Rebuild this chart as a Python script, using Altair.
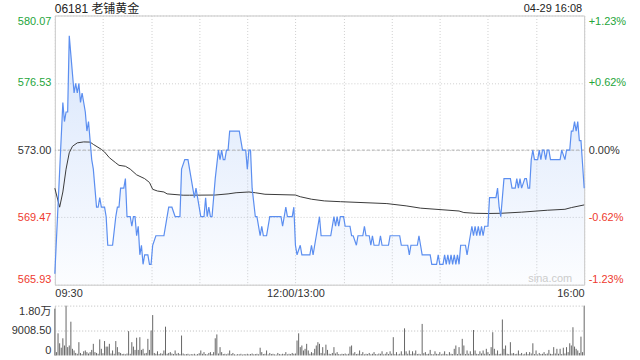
import altair as alt
import pandas as pd

# ---------------- data ----------------
# minutes since 09:30 (12:00 and 13:00 share index 150, 16:00 = 330)
price_min = [0, 5, 6, 7, 8, 9, 10, 12, 13, 14, 15, 16, 17, 18, 19, 20, 21, 22, 23, 24,
             25, 26, 27, 28, 29, 31, 32, 33, 36, 38, 39, 40, 41, 43, 44, 45, 47, 48, 49, 50,
             51, 52, 53, 54, 55, 56, 58, 59, 60, 61, 63, 68, 70, 71, 73, 75, 78, 79, 81, 83,
             84, 85, 87, 88, 89, 90, 91, 93, 94, 95, 96, 97, 98, 99, 100, 102, 103, 104, 105, 106,
             107, 108, 109, 115, 117, 119, 120, 121, 122, 123, 125, 126, 128, 129, 130, 132, 134, 141, 142, 144,
             145, 148, 149, 150, 151, 153, 154, 159, 160, 161, 162, 164, 165, 166, 172, 174, 175, 176, 177, 178,
             180, 181, 184, 185, 186, 188, 189, 192, 193, 194, 196, 197, 198, 199, 202, 203, 204, 208, 209, 215,
             216, 220, 221, 222, 226, 227, 228, 229, 234, 235, 238, 239, 240, 242, 243, 244, 245, 246, 247, 248,
             249, 250, 251, 252, 253, 256, 257, 258, 260, 261, 262, 263, 264, 265, 266, 267, 268, 270, 271, 275,
             276, 277, 278, 279, 280, 284, 285, 287, 288, 289, 290, 291, 293, 294, 295, 296, 297, 298, 299, 301,
             302, 303, 304, 305, 306, 307, 308, 309, 315, 316, 318, 319, 321, 322, 323, 324, 325, 326, 327, 328,
             330]
price_val = [566.5, 575.5, 574.5, 575, 575, 579, 578, 576, 576.5, 576, 576.5, 575.5, 576, 575.5, 575, 574, 574.5, 573.5, 572.5, 572,
             571, 570, 570, 570.5, 570, 570, 569.5, 568, 568, 569.5, 570, 570, 571, 571, 571.5, 569.5, 569.5, 569, 569.5, 569.5,
             568.5, 569, 567.5, 568, 567, 567.5, 567.5, 567, 567, 568, 568.5, 568.5, 569.5, 570, 570, 569.5, 569.5, 572, 572.5, 572.5,
             572, 571.5, 570.5, 571, 570.5, 570, 569.5, 569.5, 570.5, 569.5, 570, 569.5, 569.5, 570.5, 571.5, 573, 572.5, 573, 572.5, 572.5,
             573, 573, 574, 574, 573, 573, 572, 573, 573, 571, 569.5, 569.5, 568.5, 569, 568.5, 568.5, 569.5, 569.5, 569, 570,
             569.5, 569.5, 570, 568, 567.5, 568, 567.5, 567.5, 568, 567.5, 568, 569, 569.5, 568.5, 568.5, 569.5, 569, 569.5, 569, 569.5,
             569.5, 569, 569, 568.5, 568.5, 568, 568.5, 568.5, 569, 568.5, 568.5, 568, 568.5, 568, 568, 568.5, 568, 568, 568.5, 568.5,
             568, 568, 567.5, 568, 568, 568.5, 568, 567.5, 567.5, 567, 567, 567.5, 567, 567, 567.5, 567, 567.5, 567, 567.5, 567,
             567.5, 567, 567.5, 567, 568, 568, 567.5, 568, 569, 568.5, 569, 568.5, 569, 568.5, 569, 568.5, 569, 569, 570.5, 570.5,
             571, 570, 569.5, 570.5, 571.5, 571.5, 571, 571, 571.5, 571, 571.5, 571, 571.5, 571.5, 571, 571, 572.5, 573, 572.5, 572.5,
             573, 572.5, 573, 573, 572.5, 573, 573, 572.5, 572.5, 573, 572.5, 573, 573, 574, 574, 574.5, 574, 574.5, 573.5, 573.5,
             571]

avg_min = [0, 3, 5, 7, 9, 11, 14, 18, 22, 24, 29, 31, 34, 38, 40, 44, 47, 51, 56, 59,
           61, 64, 68, 70, 80, 84, 100, 108, 113, 121, 125, 131, 150, 153, 160, 168, 178, 207, 219, 228,
           252, 255, 262, 270, 278, 291, 307, 318, 322, 330]
avg_val = [571.0, 570.0, 570.8, 572.0, 572.86, 573.2, 573.38, 573.43, 573.42, 573.3, 573.04, 572.9, 572.6, 572.33, 572.2, 572.15, 572.0, 571.7, 571.5, 571.3,
           570.94, 570.85, 570.8, 570.7, 570.63, 570.63, 570.64, 570.7, 570.76, 570.8, 570.76, 570.68, 570.64, 570.55, 570.42, 570.33, 570.29, 570.19, 570.07, 569.95,
           569.8, 569.72, 569.68, 569.67, 569.68, 569.74, 569.84, 569.89, 569.98, 570.12]

# volume per minute, index 0..330
volume = [16900, 1200, 8000, 4400, 2800, 6200, 3600, 18000, 3000, 3600,
          12200, 2400, 1800, 900, 600, 4800, 900, 500, 1500, 1800,
          1200, 700, 1200, 2000, 4200, 1200, 900, 600, 5800, 2400,
          800, 5200, 3200, 3200, 4200, 700, 1800, 600, 5200, 3000,
          1200, 900, 500, 600, 400, 700, 8800, 600, 4800, 3200,
          2000, 6400, 2000, 6600, 2000, 2400, 700, 900, 6000, 2000,
          9000, 14600, 900, 600, 1500, 500, 800, 600, 1800, 10400,
          600, 900, 1200, 700, 500, 1800, 600, 900, 500, 7200,
          700, 400, 500, 600, 300, 500, 400, 600, 300, 500,
          800, 1800, 600, 1200, 500, 400, 900, 1200, 500, 1200,
          6200, 7600, 700, 3000, 1200, 500, 600, 400, 700, 1800,
          500, 900, 400, 300, 500, 400, 600, 300, 500, 400,
          600, 400, 500, 700, 400, 500, 600, 400, 2800, 1200,
          500, 600, 1800, 400, 900, 500, 600, 400, 300, 900,
          500, 400, 600, 500, 1200, 400, 600, 500, 900, 600,
          700, 5400, 8000, 3000, 3600, 1800, 2400, 4200, 1800, 600,
          1200, 800, 2400, 3600, 4800, 4200, 900, 3000, 700, 3900,
          2000, 600, 500, 900, 3000, 700, 1200, 500, 400, 600,
          500, 700, 400, 600, 3200, 3600, 700, 1200, 500, 600,
          1800, 500, 1200, 400, 600, 500, 900, 400, 600, 1200,
          500, 400, 700, 600, 1500, 400, 600, 1200, 500, 1500,
          600, 6600, 500, 1200, 400, 600, 1500, 400, 9800, 1500,
          600, 1800, 500, 1500, 700, 1800, 500, 600, 400, 11400,
          800, 1200, 500, 600, 2000, 500, 400, 1500, 600, 500,
          1200, 400, 600, 1500, 500, 400, 1200, 600, 500, 2400,
          3600, 500, 3000, 600, 6000, 3600, 500, 1800, 600, 1500,
          500, 9200, 1800, 600, 500, 1500, 700, 1800, 600, 2400,
          1200, 500, 3000, 8400, 2400, 600, 1800, 500, 600, 13000,
          2400, 3600, 600, 500, 4800, 700, 900, 500, 600, 1800,
          500, 900, 400, 600, 1200, 500, 1200, 700, 4400, 500,
          1800, 400, 900, 500, 600, 1200, 500, 700, 2000, 600,
          500, 3000, 700, 2400, 600, 2400, 500, 2800, 700, 3000,
          1200, 4400, 3600, 10200, 3200, 2400, 1800, 900, 6800, 1200,
          18017]

prev_close = 573.00
price_ticks = [565.93, 569.47, 573.00, 576.53, 580.07]
pct_labels = ["-1.23%", "-0.62%", "0.00%", "+0.62%", "+1.23%"]
vol_ticks = [0, 9008.5, 18017]
vol_labels = ["0", "9008.50", "1.80万"]
time_ticks = [0, 150, 330]
time_labels = ["09:30", "12:00/13:00", "16:00"]
grid_minutes = list(range(0, 331, 30))
title_text = "06181 老铺黄金"
stamp_text = "04-29 16:08"
mark_text_wm = "sina.com"

# ---------------- chart ----------------
FONT = "Liberation Sans, Arial, Noto Sans CJK SC"
GREEN = "#25a53b"
RED = "#ee3a2e"
DARK = "#333333"

price_df = pd.DataFrame({"m": price_min, "price": price_val})
avg_df = pd.DataFrame({"m": avg_min, "avg": avg_val})
vol_df = pd.DataFrame({"m": list(range(len(volume))), "vol": volume})
one = pd.DataFrame({"k": [0]})

W, H, VH = 531, 270, 50


def map_expr(ticks, labels, default="''"):
    expr = default
    for t, l in zip(ticks, labels):
        expr = f"abs(datum.value - {t}) < 0.001 ? '{l}' : ({expr})"
    return expr


xscale = alt.Scale(domain=[time_ticks[0], time_ticks[-1]], nice=False, zero=False)
yscale = alt.Scale(domain=[price_ticks[0], price_ticks[-1]], nice=False, zero=False)

color_cond = {
    "condition": [
        {"test": f"datum.value > {prev_close + 0.001}", "value": GREEN},
        {"test": f"datum.value < {prev_close - 0.001}", "value": RED},
    ],
    "value": DARK,
}

xaxis = alt.Axis(values=grid_minutes, labelExpr=map_expr(time_ticks, time_labels),
                 grid=True, gridDash=[1, 2], gridColor="#cfcfcf", domain=False, ticks=False,
                 labelFlush=True, labelOverlap=False, labelFontSize=11, labelColor=DARK,
                 labelFont=FONT, labelPadding=3, title=None)

left_axis = alt.Axis(values=price_ticks, format=".2f", orient="left", grid=True,
                     gridDash=[1, 2], gridColor="#cfcfcf", domain=False, ticks=False,
                     labelFlush=True, labelOverlap=False, labelFontSize=11, labelFont=FONT,
                     labelColor=color_cond, labelPadding=4, title=None)

right_axis = alt.Axis(values=price_ticks, labelExpr=map_expr(price_ticks, pct_labels),
                      orient="right", grid=False, domain=False, ticks=False,
                      labelFlush=True, labelOverlap=False, labelFontSize=11, labelFont=FONT,
                      labelColor=color_cond, labelPadding=4, title=None)

gradient = alt.Gradient(
    gradient="linear",
    stops=[alt.GradientStop(color="rgba(80,140,240,0.22)", offset=0),
           alt.GradientStop(color="rgba(80,140,240,0.02)", offset=1)],
    x1=1, x2=1, y1=0, y2=1,
)

area = alt.Chart(price_df).mark_area(color=gradient, clip=True).encode(
    x=alt.X("m:Q", scale=xscale, axis=xaxis),
    y=alt.Y("price:Q", scale=yscale, axis=left_axis),
    y2=alt.datum(price_ticks[0]),
)

prev_rule = alt.Chart(one).mark_rule(color="#b0b0b0", strokeDash=[3, 2], strokeWidth=1).encode(
    y=alt.YDatum(prev_close, scale=yscale, axis=None),
)

avg_line = alt.Chart(avg_df).mark_line(color="#3a3a3a", strokeWidth=1).encode(
    x=alt.X("m:Q", scale=xscale, axis=xaxis),
    y=alt.Y("avg:Q", scale=yscale, axis=right_axis),
)

price_line = alt.Chart(price_df).mark_line(color="#5b8ef0", strokeWidth=1.2).encode(
    x=alt.X("m:Q", scale=xscale, axis=xaxis),
    y=alt.Y("price:Q", scale=yscale, axis=None),
)

title_mark = alt.Chart(pd.DataFrame({"t": [title_text]})).mark_text(
    align="left", baseline="middle", fontSize=12, font=FONT, color="#222222"
).encode(text="t:N", x=alt.value(0), y=alt.value(-7))

stamp_mark = alt.Chart(pd.DataFrame({"t": [stamp_text]})).mark_text(
    align="right", baseline="middle", fontSize=11, font=FONT, color="#222222"
).encode(text="t:N", x=alt.value(W - 2), y=alt.value(-7))

wm_mark = alt.Chart(pd.DataFrame({"t": [mark_text_wm]})).mark_text(
    align="right", baseline="middle", fontSize=11, font=FONT, color="#cccccc"
).encode(text="t:N", x=alt.value(W - 12), y=alt.value(H - 6))

frame_top = alt.Chart(one).mark_rule(opacity=0).encode(
    x=alt.value(-54), x2=alt.value(W + 55), y=alt.value(-14)
)

top = alt.layer(area, prev_rule, wm_mark, avg_line, price_line, title_mark, stamp_mark, frame_top).resolve_axis(
    y="independent"
).properties(width=W, height=H)

vol_axis = alt.Axis(values=vol_ticks, labelExpr=map_expr(vol_ticks, vol_labels), grid=True,
                    gridDash=[1, 2], gridColor="#bdbdbd",
                    gridOpacity={"condition": {"test": "datum.value == 0", "value": 0}, "value": 1},
                    domain=True, domainColor="#c8c8c8", ticks=False, labelFlush=True,
                    labelOverlap=False, labelFontSize=11, labelFont=FONT, labelColor=DARK,
                    labelPadding=4, title=None)

bars = alt.Chart(vol_df).mark_rule(color="#666666", strokeWidth=1).encode(
    x=alt.X("m:Q", scale=xscale, axis=None),
    y=alt.Y("vol:Q", scale=alt.Scale(domain=[vol_ticks[0], vol_ticks[-1]], nice=False), axis=vol_axis),
    y2=alt.datum(0),
)

frame_bottom = alt.Chart(one).mark_rule(opacity=0).encode(
    x=alt.value(-54), x2=alt.value(W + 55), y=alt.value(VH + 5)
)

bottom = alt.layer(bars, frame_bottom).properties(
    width=W, height=VH, view=alt.ViewBackground(stroke="transparent")
)

chart = alt.vconcat(top, bottom, spacing=21, bounds="flush").properties(
    padding=0, autosize=alt.AutoSizeParams(type="pad"), background="white"
).configure_view(stroke="#c8c8c8")

chart.save("out.html", embed_options={"renderer": "svg", "actions": False})
